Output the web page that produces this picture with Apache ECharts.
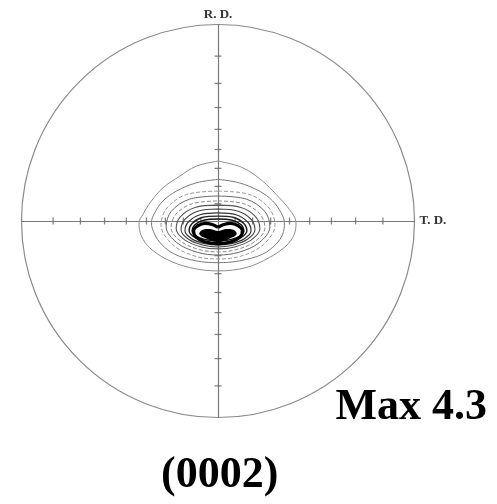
<!DOCTYPE html>
<html>
<head>
<meta charset="utf-8">
<script src="https://cdn.jsdelivr.net/npm/echarts@6/dist/echarts.min.js"></script>
<style>
html,body{margin:0;padding:0;background:#fff;}
#chart{width:497px;height:504px;}
</style>
</head>
<body>
<div id="chart"></div>
<script>
// Pole figure (0002) – stereographic projection, radius normalised to 100
const tiltTicks = [10, 20, 30, 40, 50, 60, 70, 80]; // degrees, 10° tick marks on the R.D./T.D. axes
const axisNames = { rd: 'R. D.', td: 'T. D.' };
const maxLabel = 'Max 4.3';
const planeLabel = '(0002)';

// contour lines (x = T.D., y = R.D., circle radius = 100)
const contour1 = [[0,30.5],[12.6,27.1],[22.7,20.3],[29.5,13.6],[36.3,5.9],[39.7,-0.9],[38.8,-6.8],[34.6,-12.7],[26.1,-18.6],[14.3,-23.7],[0,-25.4],[-14.5,-23.7],[-26.3,-19.4],[-34.8,-13.6],[-39,-7.6],[-40.2,-0.9],[-38.2,3.4],[-33.9,10.2],[-28,16.9],[-19.5,22.8],[-11.1,27.9],[0,30.5]];
const contour2 = [[0,21.2],[10.9,19.4],[21.1,15.2],[27.8,10.2],[32.1,4.2],[33.8,-0.9],[32.9,-6.8],[29.5,-11.8],[22.7,-16.9],[10.9,-20.3],[0,-21.2],[-11.1,-20.3],[-22.1,-16.9],[-28.8,-11.8],[-32.2,-6.8],[-33.9,-0.9],[-32.2,4.2],[-28,10.2],[-21.2,15.2],[-11.1,19.4],[0,21.2]];
const contour3 = [[0,15.2],[16,13.5],[26,6.6],[29,-2],[23.2,-11.9],[12,-17.8],[0,-19.3],[-12,-17.8],[-23.2,-11.9],[-29,-2],[-26,6.6],[-16,13.5],[0,15.2]];
const contour4 = [[0,12.7],[14.5,11.1],[23.8,4.9],[26.4,-3],[21.1,-10.9],[10.6,-15.9],[0,-17.3],[-10.6,-15.9],[-21.1,-10.9],[-26.4,-3],[-23.8,4.9],[-14.5,11.1],[0,12.7]];
const contour5 = [[0,10.2],[13.1,8.8],[21.5,3.4],[23.9,-3.5],[19.1,-10.2],[9.6,-14.5],[0,-15.7],[-9.6,-14.5],[-19.1,-10.2],[-23.9,-3.5],[-21.5,3.4],[-13.1,8.8],[0,10.2]];
const contour6 = [[0,8.1],[11.7,6.9],[19.2,2.1],[21.3,-4],[17,-9.6],[8.5,-13.2],[0,-14.2],[-8.5,-13.2],[-17,-9.6],[-21.3,-4],[-19.2,2.1],[-11.7,6.9],[0,8.1]];
const contour7 = [[0,6.1],[10.3,5],[16.9,0.8],[18.8,-4.5],[15,-9.3],[7.5,-12.3],[0,-13.2],[-7.5,-12.3],[-15,-9.3],[-18.8,-4.5],[-16.9,0.8],[-10.3,5],[0,6.1]];
const contour8 = [[0,4.1],[9.2,3.2],[15.1,-0.5],[16.8,-5],[13.4,-9],[6.7,-11.5],[0,-12.2],[-6.7,-11.5],[-13.4,-9],[-16.8,-5],[-15.1,-0.5],[-9.2,3.2],[0,4.1]];
const contour9 = [[0,2.5],[8.1,1.8],[13.2,-1.3],[14.7,-5],[11.8,-8.4],[5.9,-10.6],[0,-11.2],[-5.9,-10.6],[-11.8,-8.4],[-14.7,-5],[-13.2,-1.3],[-8.1,1.8],[0,2.5]];
const contour10 = [[0,1],[7.3,0.4],[11.9,-2],[13.2,-5],[10.6,-7.9],[5.3,-9.7],[0,-10.2],[-5.3,-9.7],[-10.6,-7.9],[-13.2,-5],[-11.9,-2],[-7.3,0.4],[0,1]];
const heartLine = [[0,-3.2],[3,-1.8],[6.5,-1.2],[10.2,-2.4],[12.4,-5],[11.4,-8],[7.2,-10.4],[0,-11.6],[-7.2,-10.4],[-11.4,-8],[-12.4,-5],[-10.2,-2.4],[-6.5,-1.2],[-3,-1.8],[0,-3.2]];
const heartCore = [[0,-5.1],[4,-4.1],[8,-4.6],[9.5,-6.7],[6,-8.9],[2,-10.4],[0,-10.8],[-2,-10.4],[-6,-8.9],[-9.5,-6.7],[-8,-4.6],[-4,-4.1]];

const contours = [
  { data: contour1, color: '#8c8c8c', width: 1, type: 'solid' },
  { data: contour2, color: '#7a7a7a', width: 1, type: 'solid' },
  { data: contour3, color: '#9a9a9a', width: 1, type: 'dashed' },
  { data: contour4, color: '#666', width: 1, type: 'solid' },
  { data: contour5, color: '#888', width: 1, type: 'dashed' },
  { data: contour6, color: '#555', width: 1.1, type: 'solid' },
  { data: contour7, color: '#444', width: 1.1, type: 'solid' },
  { data: contour8, color: '#333', width: 1.2, type: 'solid' },
  { data: contour9, color: '#222', width: 1.4, type: 'solid' },
  { data: contour10, color: '#111', width: 1.5, type: 'solid' },
  { data: heartLine, color: '#000', width: 3.2, type: 'solid' }
];

function stereo(deg) { return 100 * Math.tan(deg * Math.PI / 360); }
const hTicks = [], vTicks = [];
tiltTicks.forEach(function (t) {
  const r = stereo(t);
  hTicks.push([r, 0], [-r, 0]);
  vTicks.push([0, r], [0, -r]);
});

const CX = 218, CY = 221, R = 196.5;
const chart = echarts.init(document.getElementById('chart'), null, { renderer: 'canvas' });

const series = contours.map(function (c) {
  return {
    type: 'line', data: c.data, smooth: 0.35, symbol: 'none', silent: true, z: 3,
    lineStyle: { color: c.color, width: c.width, type: c.type }
  };
});
series.push({
  type: 'custom', silent: true, z: 4,
  data: [0],
  renderItem: function (params, api) {
    const pts = heartCore.map(function (p) { return api.coord(p); });
    return { type: 'polygon', shape: { points: pts, smooth: 0.4 }, style: { fill: '#000' } };
  }
});
series.push({ type: 'scatter', data: hTicks, symbol: 'rect', symbolSize: [1.3, 7], itemStyle: { color: '#666' }, silent: true, z: 2 });
series.push({ type: 'scatter', data: vTicks, symbol: 'rect', symbolSize: [7, 1.3], itemStyle: { color: '#666' }, silent: true, z: 2 });

chart.setOption({
  animation: false,
  backgroundColor: '#fff',
  grid: { left: CX - R, top: CY - R, width: 2 * R, height: 2 * R, containLabel: false },
  xAxis: {
    type: 'value', min: -100, max: 100,
    axisLine: { show: true, onZero: true, lineStyle: { color: '#7a7a7a', width: 1.2 } },
    axisTick: { show: false }, axisLabel: { show: false }, splitLine: { show: false },
    name: axisNames.td, nameLocation: 'end', nameGap: 5,
    nameTextStyle: { fontFamily: 'Liberation Serif', fontWeight: 'bold', fontSize: 13, color: '#333' }
  },
  yAxis: {
    type: 'value', min: -100, max: 100,
    axisLine: { show: true, onZero: true, lineStyle: { color: '#7a7a7a', width: 1.2 } },
    axisTick: { show: false }, axisLabel: { show: false }, splitLine: { show: false },
    name: axisNames.rd, nameLocation: 'end', nameGap: 3,
    nameTextStyle: { fontFamily: 'Liberation Serif', fontWeight: 'bold', fontSize: 13, color: '#333' }
  },
  polar: { center: [CX, CY], radius: R },
  angleAxis: {
    type: 'value', min: 0, max: 360, startAngle: 90,
    axisLine: { show: true, lineStyle: { color: '#8a8a8a', width: 1.2 } },
    axisTick: { show: false }, axisLabel: { show: false }, splitLine: { show: false }
  },
  radiusAxis: { type: 'value', min: 0, max: 1, show: false },
  graphic: [
    { type: 'text', right: 10, top: 386, style: { text: maxLabel, font: 'bold 44px "Liberation Serif"', fill: '#000' } },
    { type: 'text', left: 161, top: 454, style: { text: planeLabel, font: 'bold 44px "Liberation Serif"', fill: '#000' } }
  ],
  series: series
});
</script>
</body>
</html>
